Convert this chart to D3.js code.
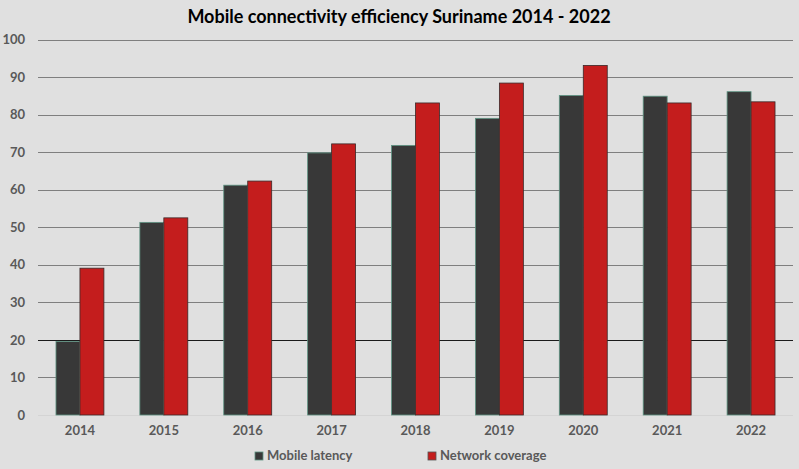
<!DOCTYPE html>
<html>
<head>
<meta charset="utf-8">
<script src="https://cdn.jsdelivr.net/npm/d3@7"></script>
<style>
  html, body { margin: 0; padding: 0; background: #e0e0e0; }
  svg { display: block; font-family: Lato, "Open Sans", sans-serif; }
</style>
</head>
<body>
<div id="chart"></div>
<script>
// Data
const years = ["2014", "2015", "2016", "2017", "2018", "2019", "2020", "2021", "2022"];
const seriesNames = ["Mobile latency", "Network coverage"];
const mobileLatency = [19.6, 51.3, 61.2, 69.8, 71.8, 79.0, 85.1, 84.9, 86.1];
const networkCoverage = [39.1, 52.5, 62.3, 72.2, 83.1, 88.4, 93.1, 83.1, 83.4];
const yTicks = [0, 10, 20, 30, 40, 50, 60, 70, 80, 90, 100];

const width = 799;
const height = 469;
const margin = {top: 40, right: 6, bottom: 54, left: 38};

const colors = ["#383838", "#c41d1d"];
const strokes = ["#5e9483", "#3a2a2a"];

const svg = d3.select("#chart")
    .append("svg")
    .attr("width", width)
    .attr("height", height);

svg.append("rect")
    .attr("width", width)
    .attr("height", height)
    .attr("fill", "#e0e0e0");

// Title
svg.append("text")
    .attr("x", 399)
    .attr("y", 23)
    .attr("text-anchor", "middle")
    .attr("font-size", "18px")
    .attr("font-weight", "bold")
    .attr("fill", "#000")
    .text("Mobile connectivity efficiency Suriname 2014 - 2022");

const x = d3.scaleBand()
    .domain(years)
    .range([margin.left, width - margin.right])
    .paddingInner(36 / 84)
    .paddingOuter(18 / 84);

const x1 = d3.scaleBand()
    .domain(seriesNames)
    .range([0, x.bandwidth()]);

const y = d3.scaleLinear()
    .domain([0, 100])
    .range([height - margin.bottom, margin.top - 0.5]);

// Grid lines
svg.append("g")
    .selectAll("line")
    .data(yTicks)
    .enter().append("line")
    .attr("x1", margin.left)
    .attr("x2", width - margin.right)
    .attr("y1", d => Math.round(y(d)) + 0.5)
    .attr("y2", d => Math.round(y(d)) + 0.5)
    .attr("stroke", d => d === 20 ? "#1a1a1a" : (d === 0 ? "#d4d4d4" : "#7f7f7f"))
    .attr("stroke-width", 1);

// Y axis labels
const yAxis = svg.append("g")
    .attr("transform", "translate(" + margin.left + ",0)")
    .call(d3.axisLeft(y).tickValues(yTicks).tickSize(0).tickPadding(13));
yAxis.select(".domain").remove();
yAxis.selectAll("text")
    .attr("font-family", "Lato, sans-serif")
    .attr("font-size", "13px")
    .attr("font-weight", "bold")
    .attr("fill", "#595959");

// X axis labels
const xAxis = svg.append("g")
    .attr("transform", "translate(0," + (height - margin.bottom) + ")")
    .call(d3.axisBottom(x).tickSize(0).tickPadding(11));
xAxis.select(".domain").remove();
xAxis.selectAll("text")
    .attr("font-family", "Lato, sans-serif")
    .attr("font-size", "13px")
    .attr("font-weight", "bold")
    .attr("fill", "#595959");

// Bars
const rows = years.map((yr, i) => ({year: yr, values: [mobileLatency[i], networkCoverage[i]]}));

svg.append("g")
    .selectAll("g")
    .data(rows)
    .enter().append("g")
    .attr("transform", d => "translate(" + x(d.year) + ",0)")
    .selectAll("rect")
    .data(d => d.values.map((v, j) => ({name: seriesNames[j], value: v, j: j})))
    .enter().append("rect")
    .attr("x", d => x1(d.name))
    .attr("y", d => y(d.value))
    .attr("width", x1.bandwidth())
    .attr("height", d => y(0) - y(d.value))
    .attr("fill", d => colors[d.j])
    .attr("stroke", d => strokes[d.j])
    .attr("stroke-width", 0.8);

// Legend
const legendX = [255, 428];
const legend = svg.append("g")
    .selectAll("g")
    .data(seriesNames)
    .enter().append("g")
    .attr("transform", (d, i) => "translate(" + legendX[i] + ",452)");

legend.append("rect")
    .attr("width", 8)
    .attr("height", 8)
    .attr("fill", (d, i) => colors[i])
    .attr("stroke", (d, i) => i === 0 ? "#5e9483" : "#555")
    .attr("stroke-width", 0.8);

legend.append("text")
    .attr("x", 12)
    .attr("y", 8)
    .attr("font-size", "13px")
    .attr("font-weight", "bold")
    .attr("fill", "#595959")
    .text(d => d);
</script>
</body>
</html>
